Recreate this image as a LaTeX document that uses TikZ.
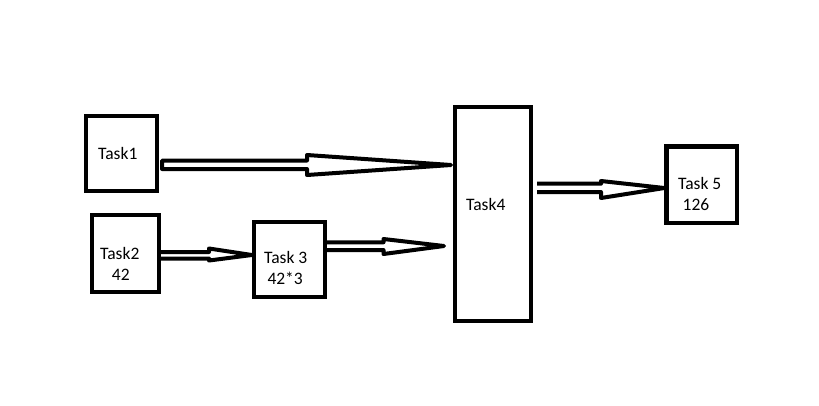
\documentclass[tikz,border=0pt]{standalone}
\usepackage{fontspec}
\setmainfont{Carlito}
\begin{document}
\begin{tikzpicture}[x=1pt,y=-1pt,
  box/.style={draw,line width=4.3pt,inner sep=0pt},
  lbl/.style={anchor=base west,inner sep=0pt,font=\fontsize{17.5}{21}\selectfont},
  hollow/.style={draw,line width=4pt,line join=round}]
\useasboundingbox[fill=white] (0,0) rectangle (819,405);
% boxes
\node[box,minimum width=71pt,minimum height=75pt] (t1) at (121.5,153.5) {};
\node[box,minimum width=67pt,minimum height=77pt] (t2) at (125.5,253.5) {};
\node[box,minimum width=71pt,minimum height=75pt] (t3) at (289.5,259.5) {};
\node[box,minimum width=76pt,minimum height=214pt] (t4) at (493.2,213.8) {};
\node[box,minimum width=70.5pt,minimum height=76.5pt] (t5) at (701.8,184.8) {};
% labels
\node[lbl] (l1) at (98,159) {Task1};
\node[lbl] (l2a) at (100,259) {Task2};
\node[lbl] (l2b) at (111.7,280) {42};
\node[lbl] (l3a) at (264,263.5) {Task 3};
\node[lbl] (l3b) at (267.3,284) {42*3};
\node[lbl] (l4) at (466,210) {Task4};
\node[lbl] (l5a) at (678,189.3) {Task 5};
\node[lbl] (l5b) at (682.5,210) {126};
% arrow tips (free ends)
\coordinate (a1tip) at (451,165);
\coordinate (a3tip) at (444,246);
% hollow double arrows
\draw[hollow] (t1.east |- 0,160.5) ++(3,0) -- (307,160.5) -- (307,155) -- (a1tip)
  -- (307,175) -- (307,169) -- (162,169) -- cycle;
\draw[hollow] (t2.east |- 0,252) -- (209,252) -- (209,248.5) -- (t3.west |- 0,255)
  -- (209,260.5) -- (209,258.5) -- (t2.east |- 0,258.5);
\draw[hollow] (t3.east |- 0,242.3) -- (383.5,242.3) -- (383.5,239) -- (a3tip)
  -- (383.5,254) -- (383.5,250) -- (t3.east |- 0,250);
\draw[hollow] (537,183.7) -- (601,183.7) -- (601,181) -- (t5.west |- 0,188)
  -- (601,198) -- (601,192) -- (537,192);
\end{tikzpicture}
\end{document}
